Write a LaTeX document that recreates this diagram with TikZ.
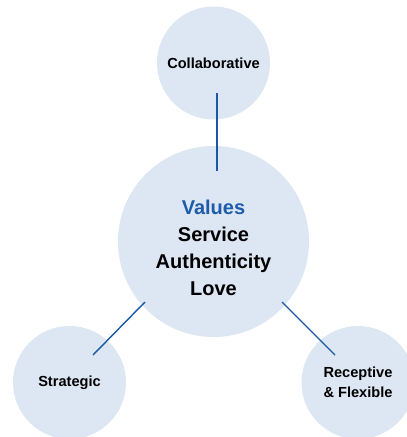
\documentclass[tikz,border=0pt]{standalone}
\usepackage{fontspec}
\setmainfont{Liberation Sans}
\begin{document}
\begin{tikzpicture}[x=1pt,y=-1pt,
  bubble/.style={circle, fill=bubblefill, draw=none, inner sep=0pt, align=center},
  small/.style={font=\fontsize{14.6}{20}\selectfont\bfseries},
  big/.style={font=\fontsize{20}{27}\selectfont\bfseries},
  link/.style={draw=linkblue, line width=1.4pt}]
  \definecolor{bubblefill}{RGB}{221,230,243}
  \definecolor{linkblue}{RGB}{24,88,164}
  \definecolor{valueblue}{RGB}{28,92,170}
  \clip (0,0) rectangle (407,437);
  \fill[white] (0,0) rectangle (407,437);

  % circles
  \node[bubble, minimum size=113pt, small] (collab) at (213.5,63) {Collaborative};
  \node[bubble, minimum size=191pt] (core) at (213.5,241.5) {};
  \node[bubble, minimum size=113pt, small] (strat) at (69.5,382.5) {Strategic};
  \node[bubble, minimum size=113pt, small] (recep) at (358,382.5) {Receptive\\\& Flexible};
  \node[big, align=center] (coretext) at (213.5,247.5)
    {\textcolor{valueblue}{Values}\\Service\\Authenticity\\Love};

  % connector end points inside the circles
  \coordinate (c1) at (217,93);
  \coordinate (c2) at (217,171);
  \coordinate (s1) at (93,355);
  \coordinate (s2) at (145,302);
  \coordinate (r1) at (335,355);
  \coordinate (r2) at (282,302);

  \draw[link] (c1) -- (c2);
  \draw[link] (s1) -- (s2);
  \draw[link] (r1) -- (r2);
\end{tikzpicture}
\end{document}
